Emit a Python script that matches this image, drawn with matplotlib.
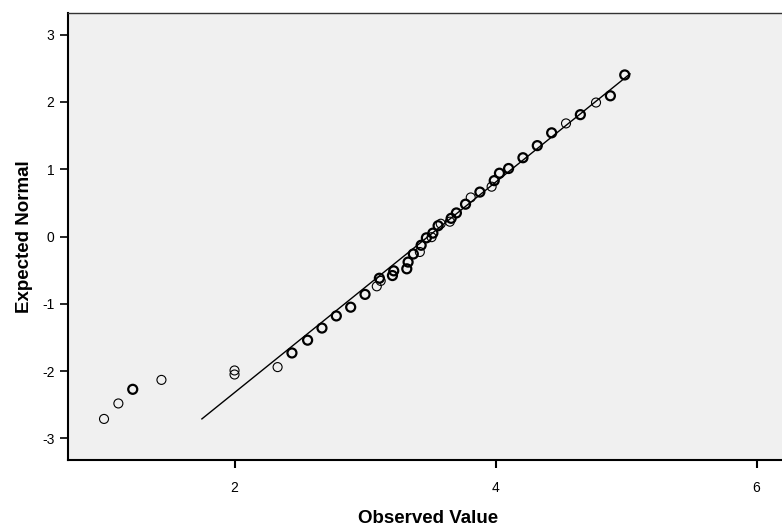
import matplotlib
matplotlib.use("Agg")
import matplotlib.pyplot as plt

plt.rcParams['font.family'] = ['Liberation Sans', 'DejaVu Sans']
plt.rcParams['axes.unicode_minus'] = False

# observed value, expected normal value, number of cases drawn on the same spot
observed = [1.00, 1.11, 1.22, 1.44, 2.00, 2.00, 2.33, 2.44, 2.56, 2.67,
            2.78, 2.89, 3.00, 3.09, 3.11, 3.12, 3.21, 3.22, 3.32, 3.33,
            3.37, 3.42, 3.43, 3.47, 3.51, 3.52, 3.56, 3.58, 3.65, 3.66,
            3.70, 3.77, 3.81, 3.88, 3.97, 3.99, 4.03, 4.10, 4.21, 4.32,
            4.43, 4.54, 4.65, 4.77, 4.88, 4.99]
expected = [-2.71, -2.48, -2.27, -2.13, -1.99, -2.05, -1.94, -1.73, -1.54, -1.36,
            -1.18, -1.05, -0.86, -0.74, -0.62, -0.66, -0.58, -0.51, -0.48, -0.38,
            -0.26, -0.23, -0.13, -0.02, -0.01, 0.05, 0.16, 0.19, 0.22, 0.27,
            0.35, 0.48, 0.58, 0.66, 0.74, 0.83, 0.94, 1.01, 1.17, 1.35,
            1.54, 1.68, 1.81, 1.99, 2.09, 2.40]
cases = [1, 1, 2, 1, 1, 1, 1, 2, 2, 2,
         2, 2, 2, 1, 2, 1, 2, 2, 2, 2,
         2, 1, 2, 2, 1, 2, 2, 1, 1, 2,
         2, 2, 1, 2, 1, 2, 2, 2, 2, 2,
         2, 1, 2, 1, 2, 2]

# reference line of the normal distribution
line_x = [1.75, 5.03]
mean, sd = 3.484, 0.640

x_ticks = [2, 4, 6]
y_ticks = [-3, -2, -1, 0, 1, 2, 3]

fig = plt.figure(figsize=(7.82, 5.27), dpi=100)
ax = fig.add_axes([68 / 782, 67 / 527, 720 / 782, 447 / 527])
ax.set_facecolor('#f0f0f0')

ax.plot(line_x, [(v - mean) / sd for v in line_x], color='black', lw=1.0, zorder=2)

single = [i for i, c in enumerate(cases) if c == 1]
multi = [i for i, c in enumerate(cases) if c > 1]
ax.scatter([observed[i] for i in single], [expected[i] for i in single],
           s=42, facecolors='none', edgecolors='black', linewidths=0.8, zorder=3)
ax.scatter([observed[i] for i in multi], [expected[i] for i in multi],
           s=42, facecolors='none', edgecolors='black', linewidths=1.6, zorder=3)

ax.set_xlim(0.724, 6.241)
ax.set_ylim(-3.32, 3.32)
ax.set_xticks(x_ticks)
ax.set_yticks(y_ticks)
ax.tick_params(axis='x', direction='out', length=6, width=1.5, pad=9, labelsize=10)
ax.tick_params(axis='y', direction='out', length=6, width=1.2, pad=3.8, labelsize=10)

ax.spines['left'].set_linewidth(1.5)
ax.spines['bottom'].set_linewidth(1.5)
ax.spines['top'].set_linewidth(1.0)
ax.spines['top'].set_color('#333333')
ax.spines['right'].set_visible(False)

ax.set_xlabel('Observed Value', fontsize=13.5, fontweight='bold')
ax.set_ylabel('Expected Normal', fontsize=13.5, fontweight='bold')
ax.xaxis.set_label_coords(0.5, -0.112)
ax.yaxis.set_label_coords(-0.049, 0.5)

fig.savefig('out.png', dpi=100, facecolor='white')
